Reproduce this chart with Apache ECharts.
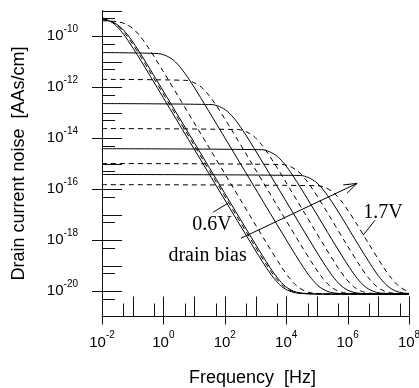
<!DOCTYPE html>
<html>
<head>
<meta charset="utf-8">
<script src="https://cdn.jsdelivr.net/npm/echarts@6/dist/echarts.min.js"></script>
<style>
html,body{margin:0;padding:0;background:#fff;}
#c{width:419px;height:388px;}
</style>
</head>
<body>
<div id="c"></div>
<script>
// ---- data, as [log10(frequency / Hz), log10(noise / AAs/cm)] ----
const curve06 = [[-2,-9.29],[-1.85,-9.35],[-1.6,-9.53],[-1.35,-9.85],[-1.1,-10.27],[-0.85,-10.74],[-0.6,-11.23],[1.0,-14.43],[2.85,-18.12],[3.35,-19.08],[3.6,-19.5],[3.85,-19.82],[4.1,-20.0],[4.35,-20.08],[5,-20.12],[8,-20.12]];
const curve07 = [[-2,-9.32],[-1.75,-9.40],[-1.5,-9.58],[-1.25,-9.90],[-1.0,-10.32],[-0.75,-10.79],[-0.5,-11.28],[1.0,-14.28],[2.92,-18.12],[3.42,-19.08],[3.67,-19.5],[3.92,-19.82],[4.17,-20.0],[4.42,-20.08],[5.2,-20.12],[8,-20.12]];
const curve08 = [[-2,-9.36],[-1.67,-9.45],[-1.42,-9.63],[-1.17,-9.95],[-0.92,-10.37],[-0.67,-10.84],[-0.42,-11.33],[1.0,-14.17],[2.975,-18.12],[3.475,-19.08],[3.725,-19.5],[3.975,-19.82],[4.225,-20.0],[4.475,-20.08],[5.3,-20.12],[8,-20.12]];
const curve09 = [[-2,-9.40],[-1.5,-9.44],[-1.25,-9.52],[-1.0,-9.70],[-0.75,-10.02],[-0.5,-10.44],[-0.25,-10.91],[0,-11.40],[1.5,-14.4],[3.36,-18.12],[3.86,-19.08],[4.11,-19.5],[4.36,-19.82],[4.61,-20.0],[4.86,-20.08],[5.6,-20.12],[8,-20.12]];
const curve10 = [[-2,-10.65],[-0.17,-10.69],[0.08,-10.77],[0.33,-10.95],[0.58,-11.27],[0.83,-11.69],[1.08,-12.16],[1.33,-12.65],[2.5,-14.99],[4.065,-18.12],[4.565,-19.08],[4.815,-19.5],[5.065,-19.82],[5.315,-20.0],[5.565,-20.08],[6.3,-20.12],[8,-20.12]];
const curve11 = [[-2,-11.70],[0.73,-11.74],[0.98,-11.82],[1.23,-12.0],[1.48,-12.32],[1.73,-12.74],[1.98,-13.21],[2.23,-13.70],[3.3,-15.84],[4.44,-18.12],[4.94,-19.08],[5.19,-19.5],[5.44,-19.82],[5.69,-20.0],[5.94,-20.08],[6.6,-20.12],[8,-20.12]];
const curve12 = [[-2,-12.65],[1.58,-12.69],[1.83,-12.77],[2.08,-12.95],[2.33,-13.27],[2.58,-13.69],[2.83,-14.16],[3.08,-14.65],[4.0,-16.49],[4.815,-18.12],[5.315,-19.08],[5.565,-19.5],[5.815,-19.82],[6.065,-20.0],[6.315,-20.08],[7,-20.12],[8,-20.12]];
const curve13 = [[-2,-13.63],[2.44,-13.67],[2.69,-13.75],[2.94,-13.93],[3.19,-14.25],[3.44,-14.67],[3.69,-15.14],[3.94,-15.63],[4.6,-16.95],[5.185,-18.12],[5.685,-19.08],[5.935,-19.5],[6.185,-19.82],[6.435,-20.0],[6.685,-20.08],[7.4,-20.12],[8,-20.12]];
const curve14 = [[-2,-14.42],[3.21,-14.46],[3.46,-14.54],[3.71,-14.72],[3.96,-15.04],[4.21,-15.46],[4.46,-15.93],[4.71,-16.42],[5.56,-18.12],[6.06,-19.08],[6.31,-19.5],[6.56,-19.82],[6.81,-20.0],[7.06,-20.08],[8,-20.11]];
const curve15 = [[-2,-15.0],[3.88,-15.04],[4.13,-15.12],[4.38,-15.30],[4.63,-15.62],[4.88,-16.04],[5.13,-16.51],[5.38,-17.0],[5.94,-18.12],[6.44,-19.08],[6.69,-19.5],[6.94,-19.82],[7.19,-20.0],[7.44,-20.08],[8,-20.1]];
const curve16 = [[-2,-15.43],[4.47,-15.47],[4.72,-15.55],[4.97,-15.73],[5.22,-16.05],[5.47,-16.47],[5.72,-16.94],[5.97,-17.43],[6.315,-18.12],[6.815,-19.08],[7.065,-19.5],[7.315,-19.82],[7.565,-20.0],[7.815,-20.08],[8,-20.09]];
const curve17 = [[-2,-15.83],[5.03,-15.87],[5.28,-15.95],[5.53,-16.13],[5.78,-16.45],[6.03,-16.87],[6.28,-17.34],[6.53,-17.83],[6.675,-18.12],[7.175,-19.08],[7.425,-19.5],[7.675,-19.82],[7.925,-20.0],[8,-20.03]];

const curves = [curve06, curve07, curve08, curve09, curve10, curve11, curve12, curve13, curve14, curve15, curve16, curve17];
const curveDashed = [false, true, false, true, false, true, false, true, false, true, false, true];

// ---- axis ticks (actual values) ----
const xEvenDecades = [1e-2, 1e0, 1e2, 1e4, 1e6, 1e8];
const xOddDecades  = [1e-1, 1e1, 1e3, 1e5, 1e7];
const xFives       = [5e-2, 5e-1, 5e0, 5e1, 5e2, 5e3, 5e4, 5e5, 5e6, 5e7];
const yEvenDecades = [1e-20, 1e-18, 1e-16, 1e-14, 1e-12, 1e-10];
const yOddDecades  = [1e-19, 1e-17, 1e-15, 1e-13, 1e-11, 1e-9];
const yFives       = [5e-21, 5e-20, 5e-19, 5e-18, 5e-17, 5e-16, 5e-15, 5e-14, 5e-13, 5e-12, 5e-11, 5e-10];

// ---- annotation anchors, [log10 f, log10 noise] ----
const biasArrow    = [[2.53, -17.93], [6.31, -15.78]];
const leader06     = [[1.62, -16.91], [2.10, -16.56]];
const leader17     = [[6.89, -17.23], [6.50, -17.82]];
const label06Pos   = [1.58, -17.40];
const labelBiasPos = [1.44, -18.60];
const label17Pos   = [7.15, -16.95];

const chart = echarts.init(document.getElementById('c'), null, {renderer: 'canvas'});

const supFmt = v => {
  const e = Math.round(v);
  if (Math.abs(e) % 2 === 1) return '';
  return '{b|10}{s|' + e + '}';
};
const labelRich = {
  b: {fontFamily: 'Liberation Sans', fontSize: 15, color: '#000', lineHeight: 24, verticalAlign: 'middle'},
  s: {fontFamily: 'Liberation Sans', fontSize: 10, color: '#000', lineHeight: 24, verticalAlign: 'top'}
};

const TICK_LEN = {0: [20, 8], 1: [20, 0], 2: [13, 0]};
function tickRenderer(isX) {
  return function (params, api) {
    const p = api.coord([api.value(0), api.value(1)]);
    const kind = api.value(2);
    const L = TICK_LEN[kind];
    if (isX) {
      const x = Math.round(p[0]) + 0.5;
      return {type: 'line', shape: {x1: x, y1: p[1] + L[1], x2: x, y2: p[1] - L[0]}, style: {stroke: '#111', lineWidth: 1}};
    }
    const y = Math.round(p[1]) + 0.5;
    return {type: 'line', shape: {x1: p[0] - (kind === 0 ? 10 : 0), y1: y, x2: p[0] + L[0], y2: y}, style: {stroke: '#111', lineWidth: 1}};
  };
}
const lg = Math.log10;
const xTickData = [].concat(
  xEvenDecades.map(v => [lg(v), -21, 0]),
  xOddDecades.map(v => [lg(v), -21, 1]),
  xFives.map(v => [lg(v), -21, 2])
);
const yTickData = [].concat(
  yEvenDecades.map(v => [-2, lg(v), 0]),
  yOddDecades.map(v => [-2, lg(v), 1]),
  yFives.map(v => [-2, lg(v), 2])
);

const series = curves.map((c, i) => ({
  type: 'line',
  data: c,
  showSymbol: false,
  smooth: 0.3,
  silent: true,
  lineStyle: {color: '#000', width: 1, type: curveDashed[i] ? [5, 4] : 'solid'},
  z: 3
}));
series.push({type: 'custom', renderItem: tickRenderer(true), data: xTickData, clip: false, silent: true, z: 2});
series.push({type: 'custom', renderItem: tickRenderer(false), data: yTickData, clip: false, silent: true, z: 2});

chart.setOption({
  animation: false,
  backgroundColor: '#fff',
  grid: {left: 102, right: 10, top: 10.5, bottom: 71.5, containLabel: false, outerBoundsMode: 'none'},
  xAxis: {
    type: 'value', min: -2, max: 8, interval: 2,
    name: 'Frequency  [Hz]', nameLocation: 'middle', nameGap: 53,
    nameTextStyle: {fontFamily: 'Liberation Sans', fontSize: 18, color: '#000', padding: [0, 6, 0, 0]},
    axisLine: {show: true, onZero: false, lineStyle: {color: '#111', width: 1}},
    axisTick: {show: false}, minorTick: {show: false}, splitLine: {show: false},
    axisLabel: {formatter: supFmt, rich: labelRich, margin: 14, verticalAlign: 'top', showMinLabel: true, showMaxLabel: true}
  },
  yAxis: {
    type: 'value', min: -21, max: -9, interval: 1,
    name: 'Drain current noise  [AAs/cm]', nameLocation: 'middle', nameGap: 74, nameRotate: 90,
    nameTextStyle: {fontFamily: 'Liberation Sans', fontSize: 18, color: '#000'},
    axisLine: {show: true, onZero: false, lineStyle: {color: '#111', width: 1}},
    axisTick: {show: false}, minorTick: {show: false}, splitLine: {show: false},
    axisLabel: {formatter: supFmt, rich: labelRich, margin: 24, verticalAlign: 'middle'}
  },
  series: series
});

// annotations
const px = v => chart.convertToPixel({gridIndex: 0}, v);
const a0 = px(biasArrow[0]), a1 = px(biasArrow[1]);
const ang = Math.atan2(a1[1] - a0[1], a1[0] - a0[0]);
const wing = d => [a1[0] - 14 * Math.cos(ang + d), a1[1] - 14 * Math.sin(ang + d)];
const w1 = wing(0.33), w2 = wing(-0.33);
const l06a = px(leader06[0]), l06b = px(leader06[1]);
const l17a = px(leader17[0]), l17b = px(leader17[1]);
const t06 = px(label06Pos), tb = px(labelBiasPos), t17 = px(label17Pos);
const serif = {fontFamily: 'Liberation Serif', fontSize: 20, fill: '#000', align: 'center', verticalAlign: 'middle'};
chart.setOption({
  graphic: [
    {type: 'line', shape: {x1: a0[0], y1: a0[1], x2: a1[0], y2: a1[1]}, style: {stroke: '#000', lineWidth: 1}, z: 10},
    {type: 'polyline', shape: {points: [w1, a1, w2]}, style: {stroke: '#000', lineWidth: 1, fill: null}, z: 10},
    {type: 'line', shape: {x1: l06a[0], y1: l06a[1], x2: l06b[0], y2: l06b[1]}, style: {stroke: '#000', lineWidth: 1}, z: 10},
    {type: 'line', shape: {x1: l17a[0], y1: l17a[1], x2: l17b[0], y2: l17b[1]}, style: {stroke: '#000', lineWidth: 1}, z: 10},
    {type: 'text', x: t06[0], y: t06[1], style: Object.assign({text: '0.6V'}, serif), z: 10},
    {type: 'text', x: tb[0], y: tb[1], style: Object.assign({text: 'drain bias'}, serif), z: 10},
    {type: 'text', x: t17[0], y: t17[1], style: Object.assign({text: '1.7V'}, serif), z: 10}
  ]
});
</script>
</body>
</html>
